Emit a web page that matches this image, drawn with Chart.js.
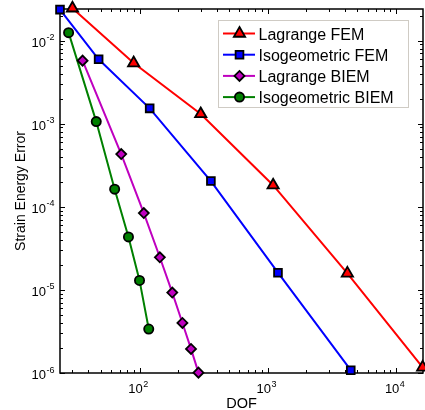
<!DOCTYPE html>
<html>
<head>
<meta charset="utf-8">
<script src="https://cdn.jsdelivr.net/npm/chart.js@4"></script>
<style>
  html, body { margin: 0; padding: 0; background: #fff; }
  canvas { display: block; }
</style>
</head>
<body>
<canvas id="errChart" width="425" height="410"></canvas>
<script>
// --- Data ---
const seriesNames = ['Lagrange FEM', 'Isogeometric FEM', 'Lagrange BIEM', 'Isogeometric BIEM'];

const lagFemDof = [30, 90, 300, 1100, 4170, 16100];
const lagFemErr = [0.0245, 5.37e-3, 1.31e-3, 1.82e-4, 1.58e-5, 1.17e-6];

const igaFemDof = [24, 48, 120, 360, 1200, 4430];
const igaFemErr = [0.0236, 5.96e-3, 1.53e-3, 2.04e-4, 1.61e-5, 1.08e-6];

const lagBiemDof = [36, 72, 108, 144, 180, 216, 252, 288];
const lagBiemErr = [5.74e-3, 4.31e-4, 8.41e-5, 2.47e-5, 9.28e-6, 4.0e-6, 1.95e-6, 1.01e-6];

const igaBiemDof = [28, 46, 64, 82, 100, 118];
const igaBiemErr = [0.01247, 1.06e-3, 1.63e-4, 4.34e-5, 1.30e-5, 3.38e-6];

// axis limits (tight, like matlab)
const xMin = 24, xMax = 16200;
const yMin = 1e-6, yMax = 0.024;

const xTickExps = [2, 3, 4];
const yTickExps = [-2, -3, -4, -5, -6];

const FONT = '"Liberation Sans", Arial, Helvetica, sans-serif';

function toPoints(xs, ys) {
    return xs.map((v, i) => ({ x: v, y: ys[i] }));
}

// styles per series: colour, marker, radius
const styles = [
    { color: '#ff0000', marker: 'triangle', r: 6.5 },
    { color: '#0000ff', marker: 'rect', r: 5.5 },
    { color: '#bf00bf', marker: 'rectRot', r: 5 },
    { color: '#008000', marker: 'circle', r: 4.6 }
];
const allData = [
    toPoints(lagFemDof, lagFemErr),
    toPoints(igaFemDof, igaFemErr),
    toPoints(lagBiemDof, lagBiemErr),
    toPoints(igaBiemDof, igaBiemErr)
];

const datasets = allData.map((d, i) => ({
    label: seriesNames[i],
    data: d,
    borderColor: styles[i].color,
    borderWidth: 2,
    pointStyle: styles[i].marker,
    pointRadius: styles[i].r,
    pointBackgroundColor: styles[i].color,
    pointBorderColor: '#000',
    pointBorderWidth: 1.8,
    tension: 0,
    clip: false
}));

// minor + major ticks for a log axis
function logTicks(min, max) {
    const out = [];
    for (let e = Math.floor(Math.log10(min)); e <= Math.ceil(Math.log10(max)); e++) {
        for (let m = 1; m <= 9; m++) {
            const v = m * Math.pow(10, e);
            if (v >= min * 0.9999 && v <= max * 1.0001) out.push({ v: v, major: m === 1 });
        }
    }
    return out;
}

// draws "10" with a superscript exponent
function drawPow(ctx, exp, x, yBase, align) {
    ctx.font = '13px ' + FONT;
    const wBase = ctx.measureText('10').width;
    ctx.font = '9px ' + FONT;
    const wExp = ctx.measureText(String(exp)).width;
    const total = wBase + wExp;
    let start = align === 'right' ? x - total : x - total / 2;
    ctx.textAlign = 'left';
    ctx.textBaseline = 'alphabetic';
    ctx.font = '13px ' + FONT;
    ctx.fillText('10', start, yBase);
    ctx.font = '9px ' + FONT;
    ctx.fillText(String(exp), start + wBase + 0.5, yBase - 6.5);
}

// --- Axes box, ticks and labels ---
const axesBox = {
    id: 'axesBox',
    beforeDatasetsDraw(chart) {
        const { ctx, chartArea: a, scales: { x, y } } = chart;
        ctx.save();
        ctx.strokeStyle = '#000';
        ctx.lineWidth = 1;
        ctx.beginPath();
        logTicks(xMin, xMax).forEach(t => {
            const px = Math.round(x.getPixelForValue(t.v)) + 0.5;
            const len = t.major ? 5 : 3;
            ctx.moveTo(px, a.bottom); ctx.lineTo(px, a.bottom - len);
            ctx.moveTo(px, a.top); ctx.lineTo(px, a.top + len);
        });
        logTicks(yMin, yMax).forEach(t => {
            const py = Math.round(y.getPixelForValue(t.v)) + 0.5;
            const len = t.major ? 5 : 3;
            ctx.moveTo(a.left, py); ctx.lineTo(a.left + len, py);
            ctx.moveTo(a.right, py); ctx.lineTo(a.right - len, py);
        });
        ctx.stroke();

        ctx.lineWidth = 1.5;
        ctx.strokeRect(a.left, a.top, a.right - a.left, a.bottom - a.top);

        ctx.fillStyle = '#000';
        xTickExps.forEach(e => {
            const px = x.getPixelForValue(Math.pow(10, e));
            drawPow(ctx, e, px - 1.5, a.bottom + 20, 'center');
        });
        yTickExps.forEach(e => {
            const py = y.getPixelForValue(Math.pow(10, e));
            drawPow(ctx, e, a.left - 6, py + 6, 'right');
        });

        // axis titles
        ctx.textAlign = 'center';
        ctx.textBaseline = 'alphabetic';
        ctx.font = '14.5px ' + FONT;
        ctx.fillText('DOF', (a.left + a.right) / 2, 407.5);

        ctx.save();
        ctx.translate(25, (a.top + a.bottom) / 2);
        ctx.rotate(-Math.PI / 2);
        ctx.font = '14px ' + FONT;
        ctx.fillText('Strain Energy Error', 0, 0);
        ctx.restore();
        ctx.restore();
    }
};

// --- Legend box (top right, inside axes) ---
const legendBox = {
    id: 'legendBox',
    afterDraw(chart) {
        const ctx = chart.ctx;
        ctx.save();
        ctx.fillStyle = '#fff';
        ctx.fillRect(218.5, 20.5, 190, 87);
        ctx.strokeStyle = '#cfcbc4';
        ctx.lineWidth = 1;
        ctx.strokeRect(218.5, 20.5, 190, 87);

        seriesNames.forEach((name, i) => {
            const rowY = 33.5 + i * 21.2;
            const s = styles[i];
            ctx.strokeStyle = s.color;
            ctx.lineWidth = 2;
            ctx.beginPath();
            ctx.moveTo(223, rowY); ctx.lineTo(255, rowY);
            ctx.stroke();

            ctx.fillStyle = s.color;
            ctx.strokeStyle = '#000';
            ctx.lineWidth = 1.8;
            Chart.helpers.drawPoint(ctx, { pointStyle: s.marker, radius: s.r, rotation: 0, borderWidth: 1.8 }, 239.5, rowY);

            ctx.fillStyle = '#000';
            ctx.font = '16px ' + FONT;
            ctx.textAlign = 'left';
            ctx.textBaseline = 'alphabetic';
            ctx.fillText(name, 258.5, rowY + 6);
        });
        ctx.restore();
    }
};

new Chart(document.getElementById('errChart'), {
    type: 'line',
    data: { datasets: datasets },
    options: {
        responsive: false,
        animation: false,
        devicePixelRatio: 1,
        // no auto padding, the plot box is fixed like the matlab figure
        layout: { autoPadding: false, padding: { left: 60, right: 2, top: 9, bottom: 37 } },
        plugins: { legend: { display: false }, tooltip: { enabled: false } },
        scales: {
            x: { type: 'logarithmic', min: xMin, max: xMax, bounds: 'data', display: false },
            y: { type: 'logarithmic', min: yMin, max: yMax, bounds: 'data', display: false }
        }
    },
    plugins: [axesBox, legendBox]
});
</script>
</body>
</html>
